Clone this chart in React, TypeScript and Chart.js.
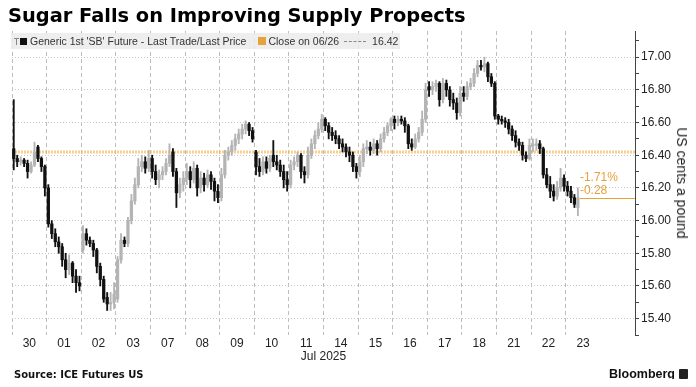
import React, { useEffect, useRef } from 'react';
import { Chart, registerables } from 'chart.js';

Chart.register(...registerables);

// ---------- data ----------
const dayLabels = ['30', '01', '02', '03', '07', '08', '09', '10', '11', '14', '15', '16', '17', '18', '21', '22', '23'];
const monthLabel = 'Jul 2025';
const candlesPerDay = 10;

// one line per trading day, 10 intraday candles each (last day partial)
const open = [
  16.44, 16.38, 16.36, 16.37, 16.35, 16.30, 16.34, 16.45, 16.38, 16.33,
  16.20, 15.98, 15.92, 15.87, 15.84, 15.76, 15.70, 15.74, 15.66, 15.62,
  15.82, 15.92, 15.88, 15.86, 15.82, 15.72, 15.64, 15.53, 15.49, 15.50,
  15.52, 15.76, 15.88, 15.86, 16.00, 16.12, 16.22, 16.33, 16.36, 16.32,
  16.38, 16.30, 16.25, 16.28, 16.30, 16.35, 16.42, 16.30, 16.17, 16.22,
  16.26, 16.30, 16.25, 16.32, 16.20, 16.26, 16.22, 16.28, 16.24, 16.18,
  16.14, 16.28, 16.40, 16.42, 16.46, 16.50, 16.53, 16.56, 16.59, 16.55,
  16.42, 16.33, 16.30, 16.36, 16.32, 16.40, 16.36, 16.34, 16.30, 16.25,
  16.22, 16.34, 16.36, 16.40, 16.30, 16.28, 16.40, 16.47, 16.52, 16.56,
  16.62, 16.58, 16.54, 16.52, 16.50, 16.47, 16.45, 16.42, 16.40, 16.33,
  16.30, 16.36, 16.44, 16.45, 16.43, 16.47, 16.44, 16.50, 16.54, 16.58,
  16.62, 16.60, 16.62, 16.61, 16.58, 16.47, 16.45, 16.50, 16.54, 16.62,
  16.82, 16.80, 16.82, 16.84, 16.74, 16.84, 16.80, 16.74, 16.72, 16.66,
  16.78, 16.76, 16.82, 16.84, 16.90, 16.95, 16.94, 16.96, 16.88, 16.84,
  16.64, 16.62, 16.61, 16.60, 16.56, 16.52, 16.48, 16.46, 16.40, 16.38,
  16.46, 16.46, 16.47, 16.44, 16.28, 16.22, 16.18, 16.15, 16.20, 16.26,
  16.21, 16.18, 16.14, 16.08,
];
const high = [
  16.74, 16.40, 16.39, 16.38, 16.37, 16.36, 16.48, 16.46, 16.39, 16.34,
  16.22, 16.00, 15.95, 15.90, 15.86, 15.80, 15.79, 15.75, 15.70, 15.66,
  15.97, 15.95, 15.90, 15.88, 15.83, 15.74, 15.66, 15.56, 15.56, 15.62,
  15.78, 15.92, 15.90, 16.02, 16.16, 16.26, 16.38, 16.40, 16.39, 16.43,
  16.40, 16.34, 16.31, 16.33, 16.38, 16.47, 16.44, 16.32, 16.26, 16.30,
  16.35, 16.33, 16.36, 16.34, 16.30, 16.29, 16.31, 16.30, 16.26, 16.22,
  16.32, 16.43, 16.45, 16.49, 16.53, 16.56, 16.59, 16.61, 16.60, 16.57,
  16.43, 16.38, 16.39, 16.39, 16.40, 16.49, 16.40, 16.37, 16.34, 16.30,
  16.37, 16.39, 16.42, 16.41, 16.33, 16.45, 16.50, 16.55, 16.60, 16.65,
  16.63, 16.60, 16.57, 16.55, 16.52, 16.50, 16.47, 16.45, 16.42, 16.35,
  16.40, 16.47, 16.49, 16.48, 16.50, 16.49, 16.53, 16.57, 16.60, 16.63,
  16.64, 16.64, 16.64, 16.63, 16.59, 16.50, 16.53, 16.57, 16.67, 16.84,
  16.85, 16.85, 16.86, 16.85, 16.87, 16.86, 16.82, 16.78, 16.75, 16.82,
  16.82, 16.85, 16.87, 16.93, 16.98, 16.98, 17.00, 16.97, 16.90, 16.85,
  16.65, 16.64, 16.63, 16.62, 16.58, 16.55, 16.50, 16.48, 16.42, 16.50,
  16.50, 16.50, 16.49, 16.45, 16.32, 16.27, 16.22, 16.24, 16.32, 16.28,
  16.24, 16.21, 16.16, 16.20,
];
const low = [
  16.31, 16.33, 16.34, 16.33, 16.26, 16.29, 16.33, 16.36, 16.30, 16.15,
  15.96, 15.89, 15.84, 15.80, 15.72, 15.65, 15.67, 15.62, 15.56, 15.57,
  15.80, 15.85, 15.84, 15.78, 15.68, 15.60, 15.50, 15.45, 15.45, 15.46,
  15.50, 15.74, 15.84, 15.84, 15.98, 16.10, 16.20, 16.30, 16.29, 16.30,
  16.26, 16.22, 16.20, 16.25, 16.28, 16.33, 16.27, 16.08, 16.14, 16.18,
  16.22, 16.20, 16.23, 16.15, 16.17, 16.18, 16.20, 16.19, 16.12, 16.11,
  16.12, 16.26, 16.37, 16.40, 16.43, 16.47, 16.50, 16.53, 16.52, 16.48,
  16.28, 16.27, 16.28, 16.29, 16.30, 16.33, 16.31, 16.27, 16.20, 16.18,
  16.20, 16.31, 16.33, 16.26, 16.23, 16.26, 16.38, 16.44, 16.50, 16.54,
  16.55, 16.50, 16.49, 16.47, 16.44, 16.42, 16.39, 16.36, 16.30, 16.26,
  16.27, 16.33, 16.41, 16.40, 16.41, 16.40, 16.42, 16.48, 16.52, 16.55,
  16.56, 16.58, 16.59, 16.54, 16.44, 16.43, 16.44, 16.48, 16.52, 16.60,
  16.76, 16.77, 16.79, 16.70, 16.72, 16.76, 16.70, 16.68, 16.62, 16.64,
  16.73, 16.74, 16.80, 16.82, 16.88, 16.92, 16.91, 16.85, 16.82, 16.62,
  16.59, 16.59, 16.57, 16.53, 16.49, 16.45, 16.43, 16.37, 16.36, 16.37,
  16.42, 16.43, 16.41, 16.26, 16.20, 16.14, 16.12, 16.13, 16.18, 16.18,
  16.15, 16.11, 16.08, 16.03,
];
const close = [
  16.38, 16.36, 16.37, 16.35, 16.30, 16.34, 16.42, 16.38, 16.33, 16.20,
  15.98, 15.92, 15.87, 15.84, 15.76, 15.70, 15.74, 15.66, 15.62, 15.60,
  15.92, 15.88, 15.86, 15.82, 15.72, 15.64, 15.52, 15.49, 15.50, 15.55,
  15.76, 15.88, 15.86, 16.00, 16.12, 16.22, 16.33, 16.36, 16.32, 16.38,
  16.30, 16.25, 16.28, 16.30, 16.35, 16.40, 16.30, 16.17, 16.22, 16.26,
  16.30, 16.25, 16.32, 16.20, 16.26, 16.22, 16.28, 16.24, 16.18, 16.14,
  16.28, 16.40, 16.42, 16.46, 16.50, 16.53, 16.56, 16.59, 16.55, 16.50,
  16.33, 16.30, 16.36, 16.32, 16.38, 16.36, 16.34, 16.30, 16.25, 16.22,
  16.34, 16.36, 16.40, 16.30, 16.28, 16.40, 16.47, 16.52, 16.56, 16.62,
  16.58, 16.54, 16.52, 16.50, 16.47, 16.45, 16.42, 16.40, 16.33, 16.30,
  16.36, 16.44, 16.45, 16.43, 16.47, 16.44, 16.50, 16.54, 16.58, 16.62,
  16.60, 16.62, 16.61, 16.58, 16.47, 16.45, 16.50, 16.54, 16.62, 16.80,
  16.80, 16.82, 16.84, 16.74, 16.84, 16.80, 16.74, 16.72, 16.66, 16.78,
  16.76, 16.82, 16.84, 16.90, 16.95, 16.94, 16.96, 16.88, 16.84, 16.64,
  16.62, 16.61, 16.60, 16.56, 16.52, 16.48, 16.46, 16.40, 16.38, 16.46,
  16.46, 16.47, 16.44, 16.28, 16.22, 16.18, 16.15, 16.20, 16.26, 16.21,
  16.18, 16.14, 16.10, 16.14,
];

const refClose = 16.42;
const refLabel = 'Close on 06/26';
const seriesLabel = "Generic 1st 'SB' Future - Last Trade/Last Price";
const changeLabels = ['-1.71%', '-0.28'];
const yTicks = [15.3, 15.4, 15.5, 15.6, 15.7, 15.8, 15.9, 16.0, 16.1, 16.2, 16.3, 16.4, 16.5, 16.6, 16.7, 16.8, 16.9, 17.0, 17.1];
const xTicks = [0, 0.5, 1, 1.5, 2, 2.5, 3, 3.5, 4, 4.5, 5, 5.5, 6, 6.5, 7, 7.5, 8, 8.5, 9, 9.5, 10, 10.5, 11, 11.5, 12, 12.5, 13, 13.5, 14, 14.5, 15, 15.5, 16, 16.5];

// ---------- style ----------
const UP = '#b4b4b4';
const DOWN = '#111111';
const ORANGE = '#e6a23c';
const SANS = '"Liberation Sans", Arial, sans-serif';

const xPos = (i: number) => Math.floor(i / candlesPerDay) + ((i % candlesPerDay) + 0.5) / candlesPerDay;
const isMajorY = (v: number) => Math.round(v * 10) % 2 === 0;

const lastPricePlugin = {
  id: 'lastPrice',
  afterDatasetsDraw(chart: any) {
    const { ctx, chartArea, scales } = chart;
    const i = close.length - 1;
    const px = scales.x.getPixelForValue(xPos(i)) + 2;
    const py = Math.round(scales.y.getPixelForValue(close[i])) + 0.5;
    ctx.save();
    ctx.strokeStyle = ORANGE;
    ctx.lineWidth = 1;
    ctx.beginPath();
    ctx.moveTo(px, py);
    ctx.lineTo(chartArea.right, py);
    ctx.stroke();
    ctx.fillStyle = ORANGE;
    ctx.font = '12px ' + SANS;
    ctx.textBaseline = 'middle';
    ctx.textAlign = 'left';
    ctx.fillText(changeLabels[0], px, py - 21);
    ctx.fillText(changeLabels[1], px, py - 8);
    ctx.restore();
  },
};

function CandleChart() {
  const ref = useRef<HTMLCanvasElement | null>(null);
  useEffect(() => {
    if (!ref.current) return;
    const colors = close.map((c, i) => (c >= open[i] ? UP : DOWN));
    const chart = new Chart(ref.current, {
      type: 'bar',
      data: {
        datasets: [
          {
            type: 'bar',
            data: close.map((_, i) => ({ x: xPos(i), y: [open[i], close[i]] })) as any,
            backgroundColor: colors,
            barThickness: 2.6,
            minBarLength: 1,
            grouped: false,
            order: 1,
          },
          {
            type: 'bar',
            data: close.map((_, i) => ({ x: xPos(i), y: [low[i], high[i]] })) as any,
            backgroundColor: colors,
            barThickness: 1.2,
            grouped: false,
            order: 2,
          },
          {
            type: 'line',
            data: [{ x: 0, y: refClose }, { x: 18, y: refClose }] as any,
            borderColor: 'rgba(244,186,96,0.7)',
            borderWidth: 3,
            borderDash: [2, 1],
            pointRadius: 0,
            order: 3,
          },
        ],
      },
      options: {
        animation: false,
        responsive: false,
        devicePixelRatio: 1,
        layout: { padding: { left: 12, top: 31, right: 0, bottom: 0 } },
        plugins: { legend: { display: false }, tooltip: { enabled: false } },
        scales: {
          x: {
            type: 'linear',
            min: 0,
            max: 18,
            offset: false,
            afterBuildTicks: (s: any) => {
              s.ticks = xTicks.map((v) => ({ value: v }));
            },
            afterFit: (s: any) => {
              s.height = 52;
            },
            grid: {
              color: (c: any) => {
                const v = c.tick ? c.tick.value : 0;
                return Number.isInteger(v) && v <= 16 ? '#bdbdbd' : 'rgba(0,0,0,0)';
              },
              drawTicks: false,
              offset: false,
            },
            border: { display: false, dash: [4, 3] },
            ticks: {
              autoSkip: false,
              maxRotation: 0,
              padding: 2,
              color: '#222',
              font: { family: SANS, size: 12, lineHeight: 1.1 },
              callback: (v: any) => {
                const n = Number(v);
                if (Math.abs(n - 9) < 1e-9) return ['', monthLabel];
                if (Math.abs((n % 1) - 0.5) < 1e-9) return dayLabels[Math.floor(n)];
                return '';
              },
            },
          },
          y: {
            position: 'right',
            min: 15.3,
            max: 17.16,
            afterBuildTicks: (s: any) => {
              s.ticks = yTicks.map((v) => ({ value: v }));
            },
            afterFit: (s: any) => {
              s.width = 61;
            },
            grid: {
              color: (c: any) => (c.tick && isMajorY(c.tick.value) ? '#c8c8c8' : 'rgba(0,0,0,0)'),
              tickColor: '#444',
              tickLength: 4,
              tickBorderDash: [],
            },
            border: { display: true, color: '#444', dash: [1, 2] },
            ticks: {
              autoSkip: false,
              padding: 2,
              color: '#222',
              font: { family: SANS, size: 12 },
              callback: (v: any) => (isMajorY(Number(v)) ? Number(v).toFixed(2) : ''),
            },
          },
        },
      } as any,
      plugins: [lastPricePlugin],
    });
    return () => chart.destroy();
  }, []);
  return <canvas ref={ref} width={696} height={387} style={{ position: 'absolute', left: 0, top: 0, width: 696, height: 387 }} />;
}

export default function App() {
  return (
    <div style={{ position: 'relative', width: 696, height: 387, margin: -8, background: '#fff', overflow: 'hidden' }}>
      <CandleChart />
      <div
        style={{
          position: 'absolute',
          left: 8,
          top: 4,
          font: 'bold 19.4px "DejaVu Sans", Verdana, sans-serif',
          lineHeight: '24px',
          color: '#000',
          whiteSpace: 'nowrap',
        }}
      >
        Sugar Falls on Improving Supply Propects
      </div>
      <div
        style={{
          position: 'absolute',
          left: 11,
          top: 33,
          width: 389,
          height: 16,
          background: 'rgba(236,236,236,0.88)',
          display: 'flex',
          alignItems: 'center',
          font: '10.5px ' + SANS,
          color: '#333',
          whiteSpace: 'nowrap',
        }}
      >
        <span style={{ position: 'relative', width: 5, height: 9, marginLeft: 3, marginRight: 1 }}>
          <span style={{ position: 'absolute', left: 0, top: 1, width: 5, height: 1, background: '#888' }} />
          <span style={{ position: 'absolute', left: 2, top: 1, width: 1, height: 7, background: '#888' }} />
        </span>
        <span style={{ display: 'inline-block', width: 7, height: 7, background: '#111', marginRight: 3 }} />
        <span>{seriesLabel}</span>
        <span style={{ display: 'inline-block', width: 8, height: 8, background: ORANGE, marginLeft: 12, marginRight: 2 }} />
        <span>{refLabel}</span>
        <span style={{ display: 'inline-block', width: 22, borderTop: '1px dashed #888', marginLeft: 5, marginRight: 6 }} />
        <span>{refClose.toFixed(2)}</span>
      </div>
      <div
        style={{
          position: 'absolute',
          left: 682,
          top: 183,
          transform: 'translate(-50%, -50%) rotate(90deg)',
          font: '14px ' + SANS,
          color: '#222',
          whiteSpace: 'nowrap',
        }}
      >
        US cents a pound
      </div>
      <div
        style={{
          position: 'absolute',
          left: 14,
          top: 368,
          font: 'bold 10px "DejaVu Sans", Verdana, sans-serif',
          lineHeight: '14px',
          color: '#111',
          whiteSpace: 'nowrap',
        }}
      >
        Source: ICE Futures US
      </div>
      <div
        style={{
          position: 'absolute',
          right: 8,
          top: 366,
          display: 'flex',
          alignItems: 'center',
          font: 'bold 12.5px ' + SANS,
          lineHeight: '16px',
          color: '#111',
          whiteSpace: 'nowrap',
        }}
      >
        <span>Bloomberg</span>
        <span style={{ display: 'inline-block', width: 9, height: 10, background: '#222', borderRadius: 1, marginLeft: 4 }} />
      </div>
    </div>
  );
}
